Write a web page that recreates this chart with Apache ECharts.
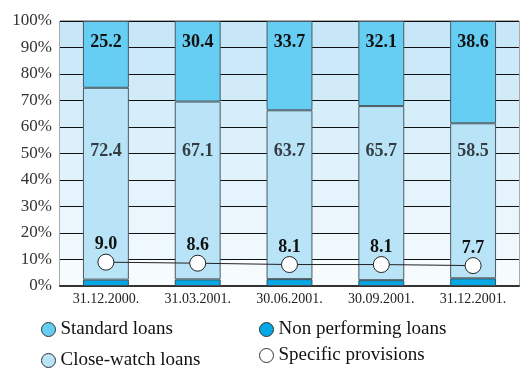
<!DOCTYPE html>
<html>
<head>
<meta charset="utf-8">
<script src="https://cdn.jsdelivr.net/npm/echarts@6/dist/echarts.min.js"></script>
<style>
  html, body { margin: 0; padding: 0; background: #fff; }
  #chart { width: 526px; height: 376px; }
</style>
</head>
<body>
<div id="chart"></div>
<script>
// data
const dates = ['31.12.2000.', '31.03.2001.', '30.06.2001.', '30.09.2001.', '31.12.2001.']
const standardLoans = [25.2, 30.4, 33.7, 32.1, 38.6]
const closeWatchLoans = [72.4, 67.1, 63.7, 65.7, 58.5]
// non performing = remainder up to 100%
const nonPerformingLoans = [2.4, 2.5, 2.6, 2.2, 2.9]
const specificProvisions = [9.0, 8.6, 8.1, 8.1, 7.7]
const yTicks = [0, 10, 20, 30, 40, 50, 60, 70, 80, 90, 100]

// level (in %) where the close-watch numbers are written
const closeWatchLabelLevel = 51

const FONT = '"Liberation Serif", "Times New Roman", serif'

// background bands, bottom to top
const bandColors = ['#f6fbfe', '#eff8fd', '#eaf6fc', '#e5f4fc', '#e0f2fb',
  '#dbf0fb', '#d6eefa', '#d1ebf9', '#cce9f9', '#c7e7f8']

const chart = echarts.init(document.getElementById('chart'))

const barLabel = {
  fontFamily: FONT,
  fontSize: 18,
  fontWeight: 'bold',
  color: '#111'
}

const legendBase = {
  orient: 'vertical',
  top: 315,
  height: 70,
  itemWidth: 14,
  itemHeight: 14,
  icon: 'circle',
  itemStyle: { borderColor: '#333', borderWidth: 1 },
  textStyle: { fontFamily: FONT, fontSize: 19, color: '#111' }
}

const option = {
  animation: false,
  grid: {
    left: 60,
    right: 7,
    top: 21,
    bottom: 90,
    show: true,
    borderColor: '#555',
    borderWidth: 1,
    backgroundColor: 'transparent'
  },
  legend: [
    Object.assign({}, legendBase, {
      left: 36,
      itemGap: 12,
      data: ['Standard loans', 'Close-watch loans']
    }),
    Object.assign({}, legendBase, {
      left: 254,
      itemGap: 7,
      data: ['Non performing loans', 'Specific provisions']
    })
  ],
  xAxis: {
    type: 'category',
    data: dates,
    axisLine: { lineStyle: { color: '#333', width: 2 } },
    axisTick: { inside: true, length: 5, lineStyle: { color: '#666' } },
    axisLabel: { fontFamily: FONT, fontSize: 14, color: '#222', margin: 6 }
  },
  yAxis: {
    type: 'value',
    min: yTicks[0],
    max: yTicks[yTicks.length - 1],
    interval: 10,
    axisLine: { show: false },
    axisTick: { show: false },
    axisLabel: {
      fontFamily: FONT,
      fontSize: 17,
      color: '#333',
      margin: 8,
      formatter: '{value}%'
    },
    splitLine: { lineStyle: { color: '#111', width: 1 } },
    splitArea: { show: true, areaStyle: { color: bandColors } }
  },
  series: [
    {
      name: 'Non performing loans',
      type: 'bar',
      stack: 'loans',
      barWidth: '50%',
      data: nonPerformingLoans,
      itemStyle: { color: '#05a7e5', borderColor: '#3d4d55', borderWidth: 1 }
    },
    {
      name: 'Close-watch loans',
      type: 'bar',
      stack: 'loans',
      data: closeWatchLoans,
      itemStyle: { color: '#b9e4f8', borderColor: '#4a5a62', borderWidth: 1 }
    },
    {
      name: 'Standard loans',
      type: 'bar',
      stack: 'loans',
      data: standardLoans,
      itemStyle: { color: '#66cdf3', borderColor: '#4a5a62', borderWidth: 1 },
      label: Object.assign({ show: true, position: 'insideTop', distance: 12 }, barLabel)
    },
    {
      // close-watch numbers are written at a common level
      name: 'closeWatchText',
      type: 'scatter',
      symbolSize: 0,
      silent: true,
      data: closeWatchLoans.map((v, i) => [dates[i], closeWatchLabelLevel]),
      label: Object.assign({
        show: true,
        position: 'inside',
        formatter: p => closeWatchLoans[p.dataIndex].toFixed(1)
      }, barLabel),
      z: 5
    },
    {
      name: 'Specific provisions',
      type: 'line',
      data: specificProvisions,
      symbol: 'circle',
      symbolSize: 16,
      showAllSymbol: true,
      lineStyle: { color: '#222', width: 1 },
      itemStyle: { color: '#fff', borderColor: '#222', borderWidth: 1 },
      label: Object.assign({
        show: true,
        position: 'top',
        distance: 0,
        formatter: p => p.value.toFixed(1)
      }, barLabel),
      z: 6
    }
  ]
}

chart.setOption(option)
</script>
</body>
</html>
